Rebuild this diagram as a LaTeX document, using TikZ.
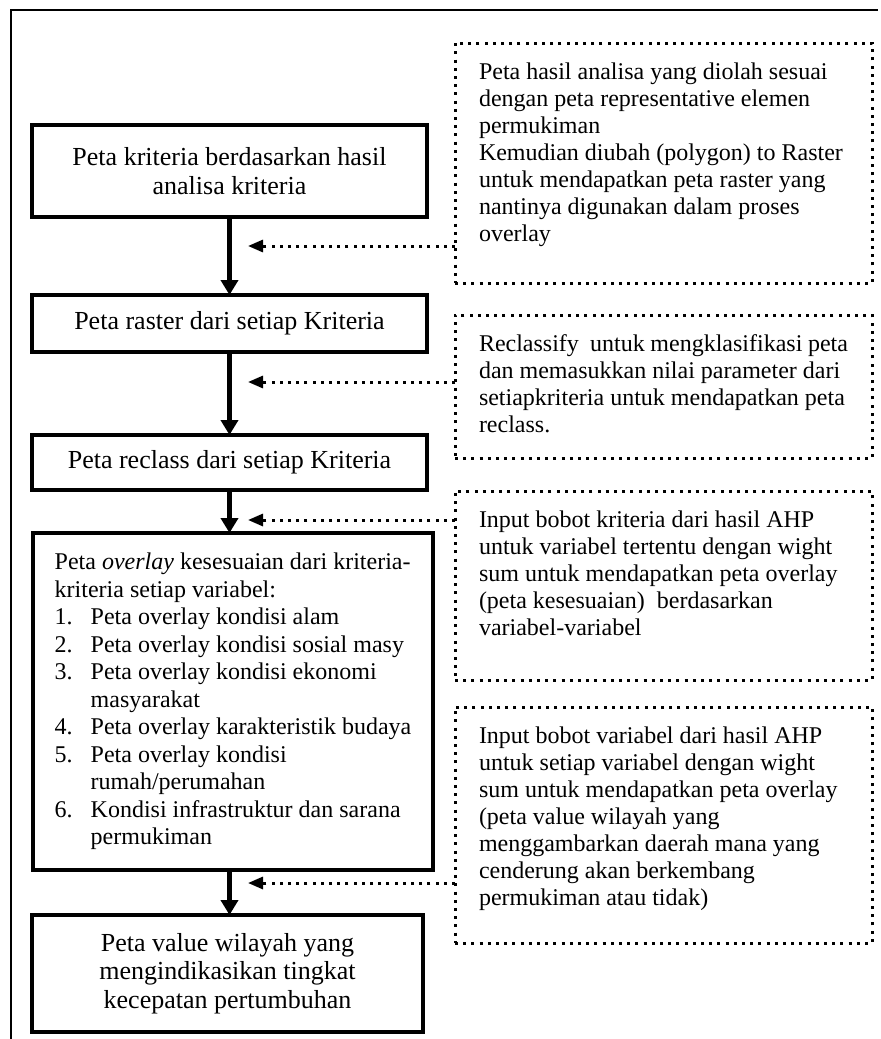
\documentclass[tikz,border=0pt]{standalone}
\usepackage{fontspec}
\setmainfont{Liberation Serif}
\usepackage{tikz}
\usetikzlibrary{positioning,arrows.meta}

\newcommand{\nomor}[1]{\makebox[18pt][l]{#1}}
\newcommand{\isicatatan}[2]{\parbox[c][#1][t]{184.5pt}{\raggedright #2}}

\tikzset{
  kotak/.style={draw, line width=2pt, outer sep=0pt, inner xsep=6pt, inner ysep=0pt,
    minimum width=197.5pt, align=center, font=\fontsize{13}{14.5}\selectfont},
  catatan/.style={draw, line width=1.5pt, outer sep=0pt, dash pattern=on 1.5pt off 2.6pt,
    inner xsep=12pt, inner ysep=10pt, minimum width=208.5pt},
  panah/.style={line width=2.3pt, -{Triangle[width=8.5pt,length=7.5pt]}},
  panahtitik/.style={line width=1.5pt, dash pattern=on 1.5pt off 2.6pt,
    -{Triangle[width=6pt,length=7.5pt]}},
  bingkai/.style={line width=0.9pt}
}

\begin{document}
\begin{tikzpicture}[x=0.5pt, y=0.5pt]
	\useasboundingbox (0,0) rectangle (881,-1039);
	% Frame
	\draw[bingkai] (11,-1039) -- (11,-10) -- (878,-10);
	% Define nodes
	\node[kotak, anchor=north west, minimum height=46pt] (b1) at (32,-125)
		{Peta kriteria berdasarkan hasil\\ analisa kriteria};
	\node[kotak, below=39pt of b1, minimum height=28.5pt] (b2)
		{Peta raster dari setiap Kriteria};
	\node[kotak, below=41.5pt of b2, minimum height=27.5pt] (b3)
		{Peta reclass dari setiap Kriteria};
	\node[kotak, below=21.5pt of b3, xshift=1.75pt, minimum width=200pt,
		minimum height=168.5pt, align=left,
		font=\fontsize{12}{13.75}\selectfont] (b4)
		{Peta \textit{overlay} kesesuaian dari kriteria-\\
		kriteria setiap variabel:\\
		\nomor{1.}Peta overlay kondisi alam\\
		\nomor{2.}Peta overlay kondisi sosial masy\\
		\nomor{3.}Peta overlay kondisi ekonomi\\
		\nomor{}masyarakat\\
		\nomor{4.}Peta overlay karakteristik budaya\\
		\nomor{5.}Peta overlay kondisi\\
		\nomor{}rumah/perumahan\\
		\nomor{6.}Kondisi infrastruktur dan sarana\\
		\nomor{}permukiman};
	\node[kotak, below=22.5pt of b4, xshift=-2.75pt, minimum width=195.5pt,
		minimum height=58.5pt, font=\fontsize{13}{14.2}\selectfont] (b5)
		{Peta value wilayah yang\\ mengindikasikan tingkat\\ kecepatan pertumbuhan};
	% Notes
	\node[catatan, anchor=north west, font=\fontsize{12}{13.5}\selectfont] (d1) at (455,-43)
		{\isicatatan{100pt}{Peta hasil analisa yang diolah sesuai\\
		dengan peta representative elemen\\
		permukiman\\
		Kemudian diubah (polygon) to Raster\\
		untuk mendapatkan peta raster yang\\
		nantinya digunakan dalam proses\\
		overlay}};
	\node[catatan, below=16pt of d1, font=\fontsize{12}{13.5}\selectfont] (d2)
		{\isicatatan{51.5pt}{Reclassify~ untuk mengklasifikasi peta\\
		dan memasukkan nilai parameter dari\\
		setiapkriteria untuk mendapatkan peta\\
		reclass.}};
	\node[catatan, below=16.5pt of d2, font=\fontsize{12}{13.5}\selectfont] (d3)
		{\isicatatan{74.5pt}{Input bobot kriteria dari hasil AHP\\
		untuk variabel tertentu dengan wight\\
		sum untuk mendapatkan peta overlay\\
		(peta kesesuaian)~ berdasarkan\\
		variabel-variabel}};
	\node[catatan, below=13.5pt of d3, font=\fontsize{12}{13.5}\selectfont] (d4)
		{\isicatatan{98pt}{Input bobot variabel dari hasil AHP\\
		untuk setiap variabel dengan wight\\
		sum untuk mendapatkan peta overlay\\
		(peta value wilayah yang\\
		menggambarkan daerah mana yang\\
		cenderung akan berkembang\\
		permukiman atau tidak)}};
	% Arrow tips of the notes
	\coordinate (u1) at (248,-246);
	\coordinate (u2) at (248,-382);
	\coordinate (u3) at (248,-520);
	\coordinate (u4) at (248,-883);
	% Connect the nodes
	\draw[panah] (b1.south) -- (b1.south |- b2.north);
	\draw[panah] (b2.south) -- (b2.south |- b3.north);
	\draw[panah] (b3.south) -- (b3.south |- b4.north);
	\draw[panah] (b3.south |- b4.south) -- (b3.south |- b5.north);
	\draw[panahtitik] (d1.west |- u1) -- (u1);
	\draw[panahtitik] (d2.west |- u2) -- (u2);
	\draw[panahtitik] (d3.west |- u3) -- (u3);
	\draw[panahtitik] (d4.west |- u4) -- (u4);
\end{tikzpicture}
\end{document}
